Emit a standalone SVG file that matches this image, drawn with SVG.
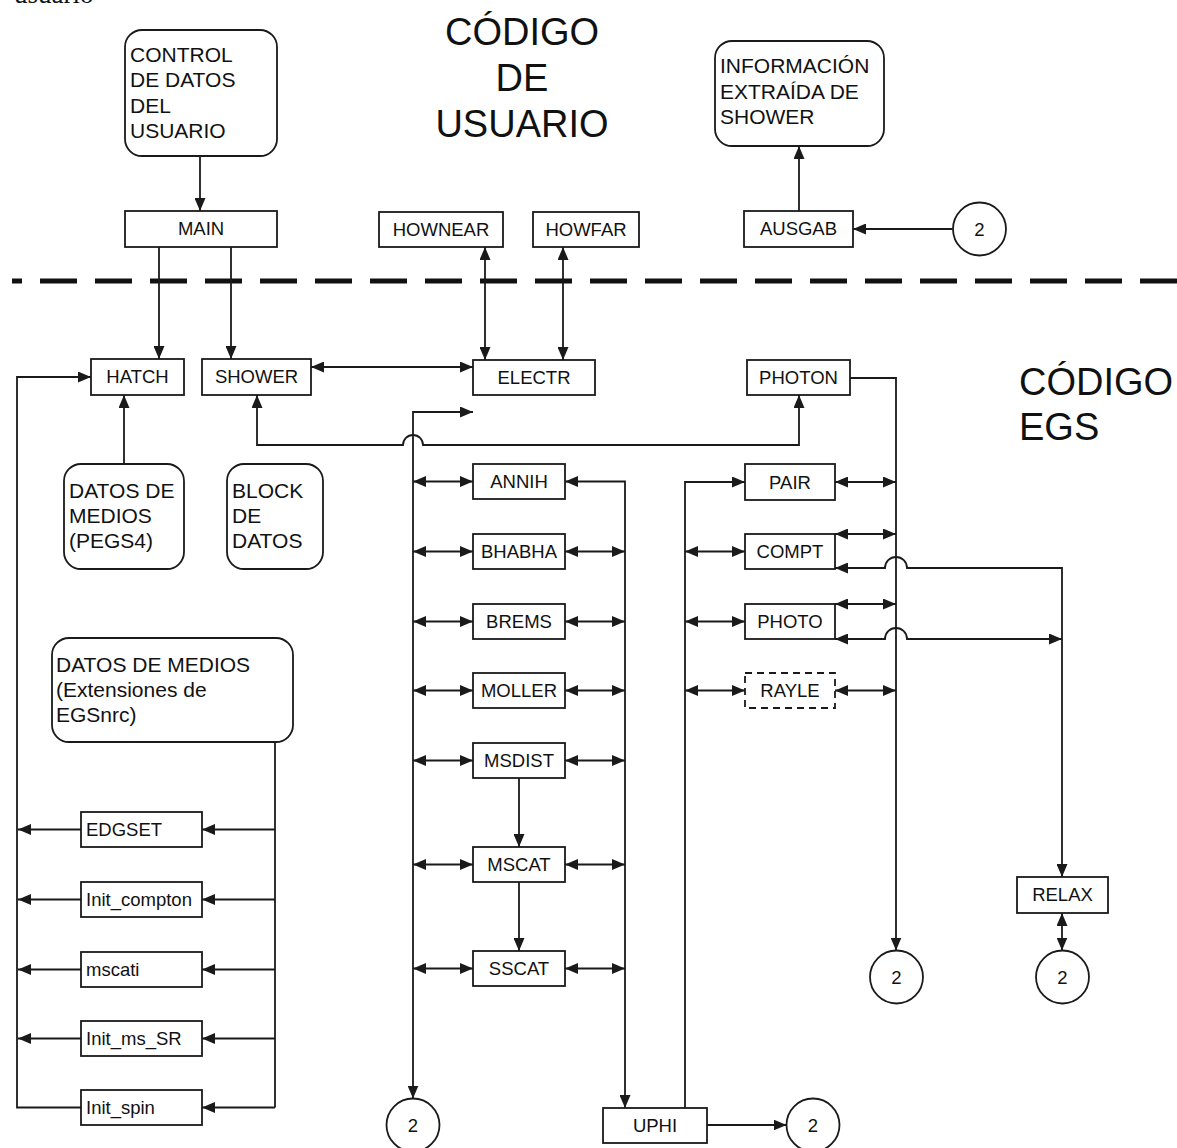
<svg xmlns="http://www.w3.org/2000/svg" width="1177" height="1148" viewBox="0 0 1177 1148">
<defs>
<marker id="ah" markerUnits="userSpaceOnUse" markerWidth="13" markerHeight="11" refX="13" refY="5.5" orient="auto-start-reverse" viewBox="0 0 13 11">
<path d="M0,0 L13,5.5 L0,11 z" fill="#1a1a1a"/>
</marker>
</defs>
<style>
.b{fill:#fff;stroke:#1a1a1a;stroke-width:1.8}
.d{fill:#fff;stroke:#1a1a1a;stroke-width:1.8;stroke-dasharray:7 5}
.c{fill:none;stroke:#1a1a1a;stroke-width:1.8}
.a{marker-end:url(#ah)}
.aa{marker-start:url(#ah);marker-end:url(#ah)}
text{font-family:"Liberation Sans",Arial,sans-serif;fill:#111}
.t{font-size:18.5px;text-anchor:middle}
.l{font-size:18.5px}
.r{font-size:21px}
.h{font-size:38px}
</style>
<rect width="1177" height="1148" fill="#fff"/>
<text x="14" y="3" style="font-family:'Liberation Serif',serif;font-size:27px">usuario</text>
<g id="titulo-usuario"><text class="h" x="522" y="45" text-anchor="middle">CÓDIGO</text><text class="h" x="522" y="91" text-anchor="middle">DE</text><text class="h" x="522" y="137" text-anchor="middle">USUARIO</text></g>
<g id="titulo-egs"><text class="h" x="1019" y="395">CÓDIGO</text><text class="h" x="1019" y="440">EGS</text></g>
<path d="M12,281 H1177" stroke="#111" stroke-width="5" stroke-dasharray="37 18" stroke-dashoffset="27" fill="none"/>
<g id="connectors">
<path class="c a" d="M200,156 V211"/>
<path class="c a" d="M799,211 V146"/>
<path class="c a" d="M952.5,229 H853"/>
<path class="c a" d="M159,247 V359"/>
<path class="c a" d="M231,247 V359"/>
<path class="c aa" d="M485,247 V360"/>
<path class="c aa" d="M563,247 V360"/>
<path class="c aa" d="M311,367 H473"/>
<path class="c a" d="M124,464 V395"/>
<path class="c aa" d="M257,395 V445 H403 A10,10 0 0 1 423,445 H799 V395"/>
<path class="c aa" d="M473,412 H413 V1098.5"/>
<path class="c aa" d="M565,481.5 H625 V1108"/>
<path class="c aa" d="M413,481.5 H473"/>
<path class="c aa" d="M413,551.5 H473"/>
<path class="c aa" d="M413,621.5 H473"/>
<path class="c aa" d="M413,690.5 H473"/>
<path class="c aa" d="M413,760.5 H473"/>
<path class="c aa" d="M413,864.5 H473"/>
<path class="c aa" d="M413,968.5 H473"/>
<path class="c aa" d="M565,551.5 H625"/>
<path class="c aa" d="M565,621.5 H625"/>
<path class="c aa" d="M565,690.5 H625"/>
<path class="c aa" d="M565,760.5 H625"/>
<path class="c aa" d="M565,864.5 H625"/>
<path class="c aa" d="M565,968.5 H625"/>
<path class="c a" d="M519,778 V847"/>
<path class="c a" d="M519,882 V951"/>
<path class="c a" d="M685,1108 V482 H745"/>
<path class="c aa" d="M685,551.5 H745"/>
<path class="c aa" d="M685,621.5 H745"/>
<path class="c aa" d="M685,690.5 H745"/>
<path class="c a" d="M850,378 H896 V950.5"/>
<path class="c aa" d="M835,482 H896"/>
<path class="c aa" d="M835,534 H896"/>
<path class="c aa" d="M835,604 H896"/>
<path class="c aa" d="M835,690.5 H896"/>
<path class="c aa" d="M1062,877 V568 H907 A11,11 0 0 0 885,568 H835"/>
<path class="c aa" d="M835,639 H885 A11,11 0 0 1 907,639 H1062"/>
<path class="c aa" d="M1062,913 V950.5"/>
<path class="c a" d="M707,1125 H786.5"/>
<path class="c a" d="M81,1107.5 H17 V377 H91"/>
<path class="c" d="M275,742 V1107.5"/>
<path class="c a" d="M81,829.5 H18"/>
<path class="c a" d="M81,899.5 H18"/>
<path class="c a" d="M81,969.5 H18"/>
<path class="c a" d="M81,1038.5 H18"/>
<path class="c a" d="M275,829.5 H202"/>
<path class="c a" d="M275,899.5 H202"/>
<path class="c a" d="M275,969.5 H202"/>
<path class="c a" d="M275,1038.5 H202"/>
<path class="c a" d="M275,1107.5 H202"/>
</g>
<g id="control"><rect class="b" x="125" y="30" width="152" height="126" rx="17"/><text class="r" x="130" y="62">CONTROL</text><text class="r" x="130" y="87">DE DATOS</text><text class="r" x="130" y="113">DEL</text><text class="r" x="130" y="138">USUARIO</text></g>
<g id="informacion"><rect class="b" x="715" y="41" width="169" height="105" rx="17"/><text class="r" x="720" y="73">INFORMACIÓN</text><text class="r" x="720" y="99">EXTRAÍDA DE</text><text class="r" x="720" y="124">SHOWER</text></g>
<g id="main"><rect class="b" x="125" y="211" width="152" height="36"/><text class="t" x="201" y="235">MAIN</text></g>
<g id="hownear"><rect class="b" x="379" y="212" width="124" height="35"/><text class="t" x="441" y="236">HOWNEAR</text></g>
<g id="howfar"><rect class="b" x="533" y="212" width="106" height="35"/><text class="t" x="586" y="236">HOWFAR</text></g>
<g id="ausgab"><rect class="b" x="744" y="211" width="109" height="36"/><text class="t" x="798.5" y="235">AUSGAB</text></g>
<g id="c-ausgab"><circle class="b" cx="979.5" cy="229" r="26.5"/><text class="t" x="979.5" y="235.5">2</text></g>
<g id="hatch"><rect class="b" x="91" y="359" width="93" height="36"/><text class="t" x="137.5" y="383">HATCH</text></g>
<g id="shower"><rect class="b" x="202" y="359" width="109" height="36"/><text class="t" x="256.5" y="383">SHOWER</text></g>
<g id="electr"><rect class="b" x="473" y="360" width="122" height="35"/><text class="t" x="534" y="384">ELECTR</text></g>
<g id="photon"><rect class="b" x="747" y="360" width="103" height="35"/><text class="t" x="798.5" y="384">PHOTON</text></g>
<g id="pegs4"><rect class="b" x="64" y="464" width="120" height="105" rx="17"/><text class="r" x="69" y="498">DATOS DE</text><text class="r" x="69" y="523">MEDIOS</text><text class="r" x="69" y="548">(PEGS4)</text></g>
<g id="block"><rect class="b" x="227" y="464" width="96" height="105" rx="17"/><text class="r" x="232" y="498">BLOCK</text><text class="r" x="232" y="523">DE</text><text class="r" x="232" y="548">DATOS</text></g>
<g id="extensiones"><rect class="b" x="52" y="638" width="241" height="104" rx="17"/><text class="r" x="56" y="672">DATOS DE MEDIOS</text><text class="r" x="56" y="697">(Extensiones de</text><text class="r" x="56" y="722">EGSnrc)</text></g>
<g id="annih"><rect class="b" x="473" y="464" width="92" height="35"/><text class="t" x="519" y="488">ANNIH</text></g>
<g id="bhabha"><rect class="b" x="473" y="534" width="92" height="35"/><text class="t" x="519" y="558">BHABHA</text></g>
<g id="brems"><rect class="b" x="473" y="604" width="92" height="35"/><text class="t" x="519" y="628">BREMS</text></g>
<g id="moller"><rect class="b" x="473" y="673" width="92" height="35"/><text class="t" x="519" y="697">MOLLER</text></g>
<g id="msdist"><rect class="b" x="473" y="743" width="92" height="35"/><text class="t" x="519" y="767">MSDIST</text></g>
<g id="mscat"><rect class="b" x="473" y="847" width="92" height="35"/><text class="t" x="519" y="871">MSCAT</text></g>
<g id="sscat"><rect class="b" x="473" y="951" width="92" height="35"/><text class="t" x="519" y="975">SSCAT</text></g>
<g id="pair"><rect class="b" x="745" y="464" width="90" height="36"/><text class="t" x="790" y="488.5">PAIR</text></g>
<g id="compt"><rect class="b" x="745" y="534" width="90" height="35"/><text class="t" x="790" y="558">COMPT</text></g>
<g id="photo"><rect class="b" x="745" y="604" width="90" height="35"/><text class="t" x="790" y="628">PHOTO</text></g>
<g id="rayle"><rect class="d" x="745" y="673" width="90" height="35"/><text class="t" x="790" y="697">RAYLE</text></g>
<g id="relax"><rect class="b" x="1017" y="877" width="91" height="36"/><text class="t" x="1062.5" y="901">RELAX</text></g>
<g id="c-photon"><circle class="b" cx="896.5" cy="977" r="26.5"/><text class="t" x="896.5" y="983.5">2</text></g>
<g id="c-relax"><circle class="b" cx="1062.5" cy="977" r="26.5"/><text class="t" x="1062.5" y="983.5">2</text></g>
<g id="edgset"><rect class="b" x="81" y="812" width="121" height="35"/><text class="l" x="86" y="836">EDGSET</text></g>
<g id="init_compton"><rect class="b" x="81" y="882" width="121" height="35"/><text class="l" x="86" y="906">Init_compton</text></g>
<g id="mscati"><rect class="b" x="81" y="952" width="121" height="35"/><text class="l" x="86" y="976">mscati</text></g>
<g id="init_ms_sr"><rect class="b" x="81" y="1021" width="121" height="35"/><text class="l" x="86" y="1045">Init_ms_SR</text></g>
<g id="init_spin"><rect class="b" x="81" y="1090" width="121" height="35"/><text class="l" x="86" y="1114">Init_spin</text></g>
<g id="c-electr"><circle class="b" cx="413" cy="1125" r="26.5"/><text class="t" x="413" y="1131.5">2</text></g>
<g id="uphi"><rect class="b" x="603" y="1108" width="104" height="35"/><text class="t" x="655" y="1132">UPHI</text></g>
<g id="c-uphi"><circle class="b" cx="813" cy="1125" r="26.5"/><text class="t" x="813" y="1131.5">2</text></g>
</svg>
